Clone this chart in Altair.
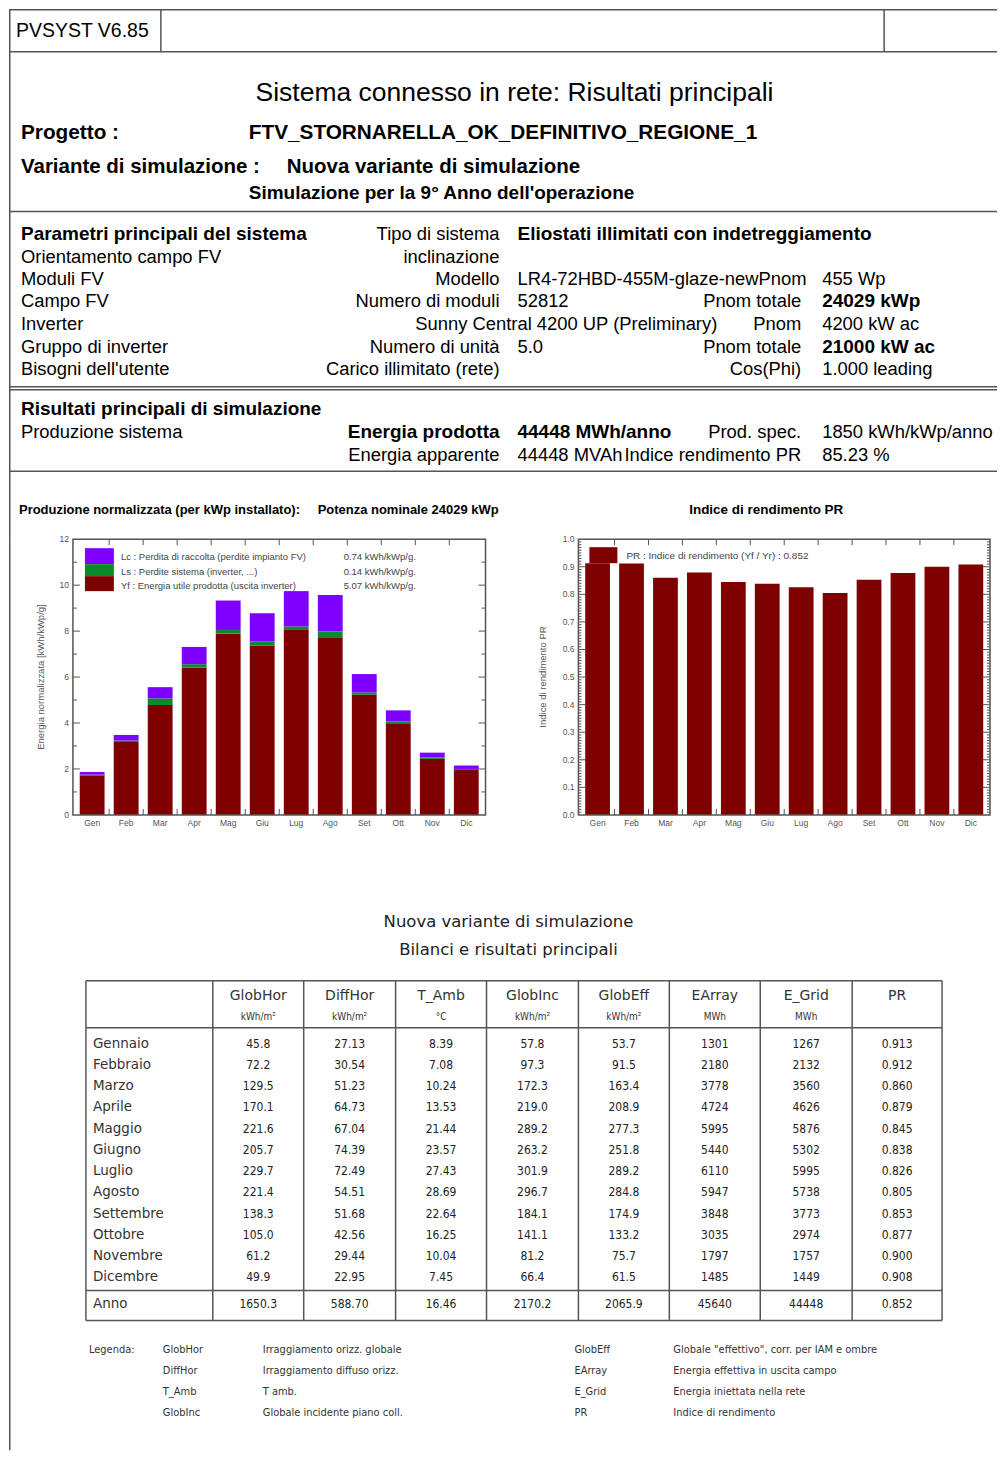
import altair as alt
import pandas as pd

# ---------------- data ----------------
months = ["Gen", "Feb", "Mar", "Apr", "Mag", "Giu", "Lug", "Ago", "Set", "Ott", "Nov", "Dic"]
yf_vals = [1.70, 3.17, 4.78, 6.42, 7.89, 7.36, 8.05, 7.70, 5.23, 3.99, 2.44, 1.95]
ls_vals = [0.05, 0.07, 0.29, 0.14, 0.16, 0.19, 0.15, 0.28, 0.10, 0.08, 0.06, 0.05]
lc_vals = [0.12, 0.24, 0.49, 0.75, 1.28, 1.23, 1.54, 1.59, 0.80, 0.48, 0.21, 0.15]
pr_vals = [0.913, 0.912, 0.860, 0.879, 0.845, 0.838, 0.826, 0.805, 0.853, 0.877, 0.900, 0.908]

series_names = ["Yf", "Ls", "Lc"]
series_colors = ["#7f0000", "#0b8a2b", "#8000ff"]
legend1_labels = ["Lc : Perdita di raccolta (perdite impianto FV)",
                  "Ls : Perdite sistema  (inverter, ...)",
                  "Yf : Energia utile prodotta  (uscita inverter)"]
legend1_values = ["0.74 kWh/kWp/g.", "0.14 kWh/kWp/g.", "5.07 kWh/kWp/g."]
legend2_label = "PR : Indice di rendimento (Yf / Yr) :  0.852"
chart1_title_a = "Produzione normalizzata (per kWp installato):"
chart1_title_b = "Potenza nominale 24029 kWp"
chart2_title = "Indice di rendimento PR"
chart1_ytitle = "Energia normalizzata  [kWh/kWp/g]"
chart2_ytitle = "Indice di rendimento PR"
chart1_yticks = [0, 2, 4, 6, 8, 10, 12]
chart2_yticks = [0.0, 0.1, 0.2, 0.3, 0.4, 0.5, 0.6, 0.7, 0.8, 0.9, 1.0]

header_version = "PVSYST V6.85"
page_title = "Sistema connesso in rete: Risultati principali"
project_label = "Progetto :"
project_name = "FTV_STORNARELLA_OK_DEFINITIVO_REGIONE_1"
variant_label = "Variante di simulazione :"
variant_name = "Nuova variante di simulazione"
variant_note = "Simulazione per la 9° Anno dell'operazione"

param_left = ["Parametri principali del sistema", "Orientamento campo FV", "Moduli FV", "Campo FV",
              "Inverter", "Gruppo di inverter", "Bisogni dell'utente"]
param_keys = ["Tipo di sistema", "inclinazione", "Modello", "Numero di moduli", "", "Numero di unità",
              "Carico illimitato (rete)"]
param_vals = ["Eliostati illimitati con indetreggiamento", "", "LR4-72HBD-455M-glaze-newPnom", "52812",
              "", "5.0", ""]
inverter_name = "Sunny Central 4200 UP (Preliminary)"
param_keys2 = ["", "", "", "Pnom totale", "Pnom", "Pnom totale", "Cos(Phi)"]
param_vals2 = ["", "", "455 Wp", "24029 kWp", "4200 kW ac", "21000 kW ac", "1.000 leading"]

res_left = ["Risultati principali di simulazione", "Produzione sistema", ""]
res_keys = ["", "Energia prodotta", "Energia apparente"]
res_vals = ["", "44448 MWh/anno", "44448 MVAh"]
res_keys2 = ["", "Prod. spec.", "Indice rendimento PR"]
res_vals2 = ["", "1850 kWh/kWp/anno", "85.23 %"]

table_title1 = "Nuova variante di simulazione"
table_title2 = "Bilanci e risultati principali"
row_names = ["Gennaio", "Febbraio", "Marzo", "Aprile", "Maggio", "Giugno", "Luglio", "Agosto",
             "Settembre", "Ottobre", "Novembre", "Dicembre", "Anno"]
col_names = ["GlobHor", "DiffHor", "T_Amb", "GlobInc", "GlobEff", "EArray", "E_Grid", "PR"]
col_units = ["kWh/m²", "kWh/m²", "°C", "kWh/m²", "kWh/m²", "MWh", "MWh", ""]
glob_hor = ["45.8", "72.2", "129.5", "170.1", "221.6", "205.7", "229.7", "221.4", "138.3", "105.0", "61.2", "49.9", "1650.3"]
diff_hor = ["27.13", "30.54", "51.23", "64.73", "67.04", "74.39", "72.49", "54.51", "51.68", "42.56", "29.44", "22.95", "588.70"]
t_amb = ["8.39", "7.08", "10.24", "13.53", "21.44", "23.57", "27.43", "28.69", "22.64", "16.25", "10.04", "7.45", "16.46"]
glob_inc = ["57.8", "97.3", "172.3", "219.0", "289.2", "263.2", "301.9", "296.7", "184.1", "141.1", "81.2", "66.4", "2170.2"]
glob_eff = ["53.7", "91.5", "163.4", "208.9", "277.3", "251.8", "289.2", "284.8", "174.9", "133.2", "75.7", "61.5", "2065.9"]
e_array = ["1301", "2180", "3778", "4724", "5995", "5440", "6110", "5947", "3848", "3035", "1797", "1485", "45640"]
e_grid = ["1267", "2132", "3560", "4626", "5876", "5302", "5995", "5738", "3773", "2974", "1757", "1449", "44448"]
pr_col = ["0.913", "0.912", "0.860", "0.879", "0.845", "0.838", "0.826", "0.805", "0.853", "0.877", "0.900", "0.908", "0.852"]
table_columns = [glob_hor, diff_hor, t_amb, glob_inc, glob_eff, e_array, e_grid, pr_col]

legend_word = "Legenda:"
legend_codes_a = ["GlobHor", "DiffHor", "T_Amb", "GlobInc"]
legend_desc_a = ["Irraggiamento orizz. globale", "Irraggiamento diffuso orizz.", "T amb.", "Globale incidente piano coll."]
legend_codes_b = ["GlobEff", "EArray", "E_Grid", "PR"]
legend_desc_b = ["Globale \"effettivo\", corr. per IAM e ombre", "Energia effettiva in uscita campo",
                 "Energia iniettata nella rete", "Indice di rendimento"]

# ---------------- styles / layout ----------------
SANS = "Liberation Sans, Arial, sans-serif"
DV = "DejaVu Sans, Verdana, sans-serif"
DVC = "DejaVu Sans Condensed, DejaVu Sans, sans-serif"
LINE = "#555555"
AXC = "#555555"
ONE = pd.DataFrame({"k": [0]})
PAGE_W = 989


def scales(W, H):
    return (alt.Scale(domain=[0, W], nice=False, zero=False),
            alt.Scale(domain=[0, H], nice=False, zero=False, reverse=True))


def text_layer(rows, ox, oy, xs, ys, size, weight="normal", align="left", font=SANS, color="#000000"):
    rows = [r for r in rows if r[2] != ""]
    df = pd.DataFrame({"x": [r[0] - ox for r in rows], "y": [r[1] - oy for r in rows], "t": [r[2] for r in rows]})
    return alt.Chart(df).mark_text(align=align, baseline="middle", fontSize=size, fontWeight=weight,
                                   font=font, color=color).encode(
        x=alt.X("x:Q", scale=xs, axis=None), y=alt.Y("y:Q", scale=ys, axis=None), text="t:N")


def line_layer(segs, ox, oy, xs, ys, width=1.5, color=LINE):
    df = pd.DataFrame({"x": [s[0] - ox for s in segs], "y": [s[1] - oy for s in segs],
                       "x2": [s[2] - ox for s in segs], "y2": [s[3] - oy for s in segs]})
    return alt.Chart(df).mark_rule(color=color, strokeWidth=width).encode(
        x=alt.X("x:Q", scale=xs, axis=None), y=alt.Y("y:Q", scale=ys, axis=None), x2="x2:Q", y2="y2:Q")


def vtext(x, y, s, size, color="#444444", align="left", angle=0):
    return alt.Chart(ONE).mark_text(align=align, baseline="middle", fontSize=size, font=SANS,
                                    color=color, angle=angle).encode(
        x=alt.value(x), y=alt.value(y), text=alt.value(s))


# ---------------- section A: header / parameters ----------------
AX0, AY0, AW, AH = 8, 8, PAGE_W, 530
xsA, ysA = scales(AW, AH)
RIGHT = 8 + PAGE_W
lines_A = [(8.75, 8, 8.75, 538), (8, 8, RIGHT, 8), (8, 50, RIGHT, 50), (160, 8, 160, 50),
           (884, 8, 884, 50), (8, 210, RIGHT, 210), (8, 385.5, RIGHT, 385.5), (8, 388.5, RIGHT, 388.5),
           (8, 470, RIGHT, 470)]
prow = [233, 256, 278, 300, 323, 346, 368]
rrow = [408, 431, 454]
XL, XK, XV, XK2, XV2 = 20, 499, 517, 801, 822
FR, FB = 18.4, 19

layers_A = [line_layer(lines_A, AX0, AY0, xsA, ysA)]
layers_A.append(text_layer([(15, 29, header_version)], AX0, AY0, xsA, ysA, 19.5))
layers_A.append(text_layer([(514, 91, page_title)], AX0, AY0, xsA, ysA, 26.5, align="center"))
layers_A.append(text_layer([(20, 131, project_label), (248, 131, project_name)], AX0, AY0, xsA, ysA, 20.8, weight="bold"))
layers_A.append(text_layer([(20, 165, variant_label), (286, 165, variant_name)], AX0, AY0, xsA, ysA, 20.5, weight="bold"))
layers_A.append(text_layer([(248, 191, variant_note)], AX0, AY0, xsA, ysA, 19, weight="bold"))

bold_left = [(XL, prow[0], param_left[0]), (XL, rrow[0], res_left[0])]
reg_left = [(XL, prow[i], param_left[i]) for i in range(1, 7)] + [(XL, rrow[1], res_left[1])]
reg_keys = [(XK, prow[i], param_keys[i]) for i in range(7)] + [(XK, rrow[2], res_keys[2]),
                                                                 (717, prow[4], inverter_name)]
bold_keys = [(XK, rrow[1], res_keys[1])]
bold_vals = [(XV, prow[0], param_vals[0]), (XV, rrow[1], res_vals[1])]
reg_vals = [(XV, prow[i], param_vals[i]) for i in range(1, 7)] + [(XV, rrow[2], res_vals[2])]
reg_keys2 = [(XK2, prow[i], param_keys2[i]) for i in range(7)] + [(XK2, rrow[i], res_keys2[i]) for i in (1, 2)]
bold_vals2 = [(XV2, prow[3], param_vals2[3]), (XV2, prow[5], param_vals2[5])]
reg_vals2 = [(XV2, prow[i], param_vals2[i]) for i in (2, 4, 6)] + [(XV2, rrow[i], res_vals2[i]) for i in (1, 2)]

layers_A += [
    text_layer(bold_left, AX0, AY0, xsA, ysA, FB, weight="bold"),
    text_layer(reg_left, AX0, AY0, xsA, ysA, FR),
    text_layer(reg_keys, AX0, AY0, xsA, ysA, FR, align="right"),
    text_layer(bold_keys, AX0, AY0, xsA, ysA, FB, weight="bold", align="right"),
    text_layer(bold_vals, AX0, AY0, xsA, ysA, FB, weight="bold"),
    text_layer(reg_vals, AX0, AY0, xsA, ysA, FR),
    text_layer(reg_keys2, AX0, AY0, xsA, ysA, FR, align="right"),
    text_layer(bold_vals2, AX0, AY0, xsA, ysA, FB, weight="bold"),
    text_layer(reg_vals2, AX0, AY0, xsA, ysA, FR),
    text_layer([(18, 509, chart1_title_a), (317, 509, chart1_title_b)], AX0, AY0, xsA, ysA, 13, weight="bold"),
    text_layer([(766, 509, chart2_title)], AX0, AY0, xsA, ysA, 13.5, weight="bold", align="center"),
]
sec_A = alt.layer(*layers_A).properties(width=AW, height=AH)

# ---------------- section B: charts (one layered view, two independent chart areas) ----------------
BW, BH = PAGE_W, 276
X1, W1 = 64, 413     # chart 1 plot area (x offset, width)
X2, W2 = 570, 412    # chart 2 plot area
PI, PO = 0.27, 0.2
TICK = "#555555"


def frame(x0, W):
    return alt.Chart(ONE).mark_rect(fillOpacity=0, stroke="#555555", strokeWidth=1.5).encode(
        x=alt.value(x0), x2=alt.value(x0 + W), y=alt.value(0), y2=alt.value(BH))


def rect(x1, x2, y1, y2, color):
    return alt.Chart(ONE).mark_rect(color=color).encode(
        x=alt.value(x1), x2=alt.value(x2), y=alt.value(y1), y2=alt.value(y2))


def y_ticks(vals, ys, x0, W, length):
    df = pd.DataFrame({"v": vals})
    left = alt.Chart(df).mark_rule(color=TICK, strokeWidth=1).encode(
        y=alt.Y("v:Q", scale=ys, axis=None), x=alt.value(x0), x2=alt.value(x0 + length))
    right = alt.Chart(df).mark_rule(color=TICK, strokeWidth=1).encode(
        y=alt.Y("v:Q", scale=ys, axis=None), x=alt.value(x0 + W - length), x2=alt.value(x0 + W))
    return [left, right]


def x_ticks(xs, W):
    step = W / (len(months) - PI + 2 * PO)
    df = pd.DataFrame({"m": months[:-1]})
    top = alt.Chart(df).mark_rule(color=TICK, strokeWidth=1, xOffset=step * PI / 2).encode(
        x=alt.X("m:N", scale=xs, axis=None, bandPosition=1), y=alt.value(0), y2=alt.value(6))
    bot = alt.Chart(df).mark_rule(color=TICK, strokeWidth=1, xOffset=step * PI / 2).encode(
        x=alt.X("m:N", scale=xs, axis=None, bandPosition=1), y=alt.value(BH - 6), y2=alt.value(BH))
    return [top, bot]


def x_labels(xs):
    return alt.Chart(pd.DataFrame({"m": months})).mark_text(
        align="center", baseline="top", fontSize=8.5, font=SANS, color=AXC).encode(
        x=alt.X("m:N", scale=xs, axis=None), y=alt.value(BH + 4), text="m:N")


def y_labels(vals, ys, x0, fmt):
    df = pd.DataFrame({"v": vals, "t": [fmt.format(v) for v in vals]})
    return alt.Chart(df).mark_text(align="right", baseline="middle", fontSize=8.5, font=SANS, color=AXC).encode(
        y=alt.Y("v:Q", scale=ys, axis=None), x=alt.value(x0 - 4), text="t:N")


# chart 1: normalized production (stacked)
xs1 = alt.Scale(domain=months, range=[X1, X1 + W1], paddingInner=PI, paddingOuter=PO)
ys1 = alt.Scale(domain=[0, 12], nice=False, zero=True)
df1 = pd.DataFrame({
    "month": months * 3,
    "series": ["Yf"] * 12 + ["Ls"] * 12 + ["Lc"] * 12,
    "value": yf_vals + ls_vals + lc_vals,
    "ord": [0] * 12 + [1] * 12 + [2] * 12,
})
bars1 = alt.Chart(df1).mark_bar().encode(
    x=alt.X("month:N", scale=xs1, axis=None),
    y=alt.Y("value:Q", stack="zero", scale=ys1, axis=None),
    color=alt.Color("series:N", scale=alt.Scale(domain=series_names, range=series_colors), legend=None),
    order=alt.Order("ord:Q", sort="ascending"),
)
leg1_y = [18, 33, 47]
chart1 = alt.layer(
    *[vtext(X1 + 48, leg1_y[i], legend1_labels[i], 9.5) for i in range(3)],
    *[vtext(X1 + 271, leg1_y[i], legend1_values[i], 9.5) for i in range(3)],
    bars1,
    rect(X1 + 12, X1 + 41, 9, 25, series_colors[2]),
    rect(X1 + 12, X1 + 41, 25, 37, series_colors[1]),
    rect(X1 + 12, X1 + 41, 37, 52, series_colors[0]),
    *y_ticks([2, 4, 6, 8, 10], ys1, X1, W1, 7),
    *y_ticks([1, 3, 5, 7, 9, 11], ys1, X1, W1, 4),
    *x_ticks(xs1, W1),
    x_labels(xs1),
    y_labels(chart1_yticks, ys1, X1, "{:d}"),
    vtext(32, BH / 2, chart1_ytitle, 9.5, color=AXC, align="center", angle=270),
    frame(X1, W1),
)

# chart 2: performance ratio
xs2 = alt.Scale(domain=months, range=[X2, X2 + W2], paddingInner=PI, paddingOuter=PO)
ys2 = alt.Scale(domain=[0, 1], nice=False, zero=True)
df2 = pd.DataFrame({"month": months, "pr": pr_vals})
bars2 = alt.Chart(df2).mark_bar(color="#7f0000").encode(
    x=alt.X("month:N", scale=xs2, axis=None),
    y=alt.Y("pr:Q", scale=ys2, axis=None),
)
chart2 = alt.layer(
    bars2,
    rect(X2 + 11, X2 + 39, 8, 24, "#7f0000"),
    vtext(X2 + 48, 17, legend2_label, 10),
    *y_ticks([i / 10 for i in range(1, 10)], ys2, X2, W2, 7),
    *y_ticks([i / 100 for i in range(1, 100) if i % 10], ys2, X2, W2, 3),
    *x_ticks(xs2, W2),
    x_labels(xs2),
    y_labels(chart2_yticks, ys2, X2, "{:.1f}"),
    vtext(X2 - 35, BH / 2, chart2_ytitle, 9.5, color=AXC, align="center", angle=270),
    frame(X2, W2),
)

border_B = alt.Chart(ONE).mark_rule(color=LINE, strokeWidth=1.5).encode(
    x=alt.value(0.75), y=alt.value(0), y2=alt.value(BH))
row_B = alt.layer(border_B, chart1, chart2).resolve_scale(
    x="independent", y="independent", color="independent").properties(width=BW, height=BH)

# ---------------- section C: table ----------------
CX0, CY0, CW, CH = 8, 814, PAGE_W, 636
xsC, ysC = scales(CW, CH)
edges = [212, 303, 395, 486, 578, 669, 760, 852, 942]
centers = [(edges[i] + edges[i + 1]) / 2 for i in range(8)]
row_y = [1043 + i * 21.27 for i in range(12)] + [1304]
lines_C = [(8.75, 814, 8.75, 814 + CH), (85, 980, 942, 980), (85, 1027, 942, 1027), (85, 1290, 942, 1290),
           (85, 1320, 942, 1320), (85, 980, 85, 1320)] + [(e, 980, e, 1320) for e in edges]

cells = []
for ci, col in enumerate(table_columns):
    for ri, v in enumerate(col):
        cells.append((centers[ci], row_y[ri], v))

lg_y = [1350, 1371, 1392, 1413]
layers_C = [
    line_layer(lines_C, CX0, CY0, xsC, ysC),
    text_layer([(508, 921, table_title1), (508, 949, table_title2)], CX0, CY0, xsC, ysC, 16.5,
               align="center", font=DV, color="#222222"),
    text_layer([(centers[i], 995, col_names[i]) for i in range(8)], CX0, CY0, xsC, ysC, 14,
               align="center", font=DV, color="#333333"),
    text_layer([(centers[i], 1016, col_units[i]) for i in range(8)], CX0, CY0, xsC, ysC, 10,
               align="center", font=DVC, color="#333333"),
    text_layer([(92, row_y[i], row_names[i]) for i in range(13)], CX0, CY0, xsC, ysC, 13.5,
               font=DV, color="#333333"),
    text_layer(cells, CX0, CY0, xsC, ysC, 12, align="center", font=DVC, color="#222222"),
    text_layer([(88, lg_y[0], legend_word)] +
               [(162, lg_y[i], legend_codes_a[i]) for i in range(4)] +
               [(262, lg_y[i], legend_desc_a[i]) for i in range(4)] +
               [(574, lg_y[i], legend_codes_b[i]) for i in range(4)] +
               [(673, lg_y[i], legend_desc_b[i]) for i in range(4)],
               CX0, CY0, xsC, ysC, 11, font=DVC, color="#333333"),
]
sec_C = alt.layer(*layers_C).properties(width=CW, height=CH)

chart = alt.vconcat(sec_A, row_B, sec_C, spacing=0, bounds="flush").properties(
    padding=0
).configure_view(strokeWidth=0)

chart.save("out.html", embed_options={"renderer": "svg", "actions": False})
